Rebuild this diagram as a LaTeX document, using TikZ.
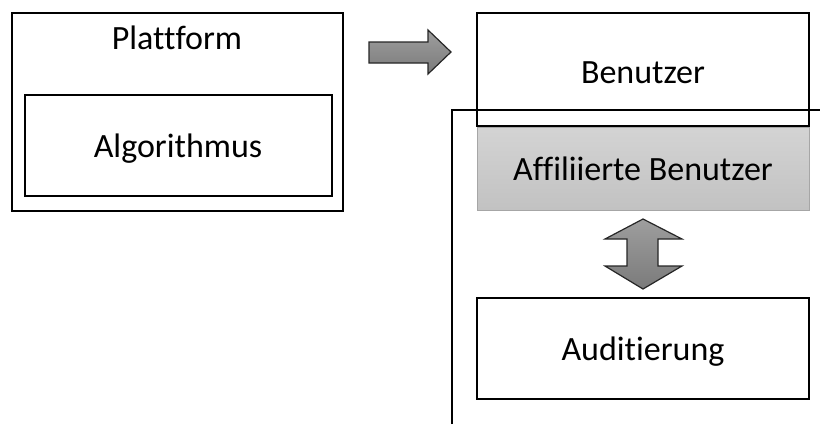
\documentclass[tikz,border=0pt]{standalone}
\usepackage{fontspec}
\setmainfont{Carlito}[Ligatures=NoCommon]
\begin{document}
\begin{tikzpicture}[x=1pt,y=-1pt,
  box/.style={draw=black,line width=1.4pt,inner sep=0pt},
  label/.style={font=\fontsize{34}{40}\selectfont,inner sep=0pt,anchor=base},
  blockarrow/.style={draw=black!85,line width=1.2pt,line join=miter,
    top color=black!38,bottom color=black!52},
  shaded/.style={draw=black!35,line width=1pt,top color=black!17,bottom color=black!24}]
\useasboundingbox (0,0) rectangle (820,424);

% left group: platform containing the algorithm
\draw[box] (12,13) rectangle (343,211);
\node[label] (plattform) at (177,49) {Plattform};
\draw[box] (25,95) rectangle (332,196);
\node[label] (algo) at (178,157) {Algorithmus};

% block arrow pointing to the user side
\path[blockarrow] (369,42) -- (428,42) -- (428,30) -- (451,52) -- (428,74)
  -- (428,63) -- (369,63) -- cycle;

% right group
\draw[box] (477,13) rectangle (809,126);
\node[label] (benutzer) at (643,83) {Benutzer};

\draw[line width=1.4pt] (452,424) -- (452,110) -- (820,110);

\path[shaded] (477,127) rectangle (809,210);
\node[label] (affil) at (643,180) {Affiliierte Benutzer};

% two-way block arrow between affiliated users and audit
\path[blockarrow] (643,219) -- (682,239) -- (658,239) -- (658,266) -- (682,266)
  -- (643,289) -- (605,266) -- (627,266) -- (627,239) -- (605,239) -- cycle;

\draw[box] (477,298) rectangle (809,399);
\node[label] (audit) at (643,360) {Auditierung};
\end{tikzpicture}
\end{document}
